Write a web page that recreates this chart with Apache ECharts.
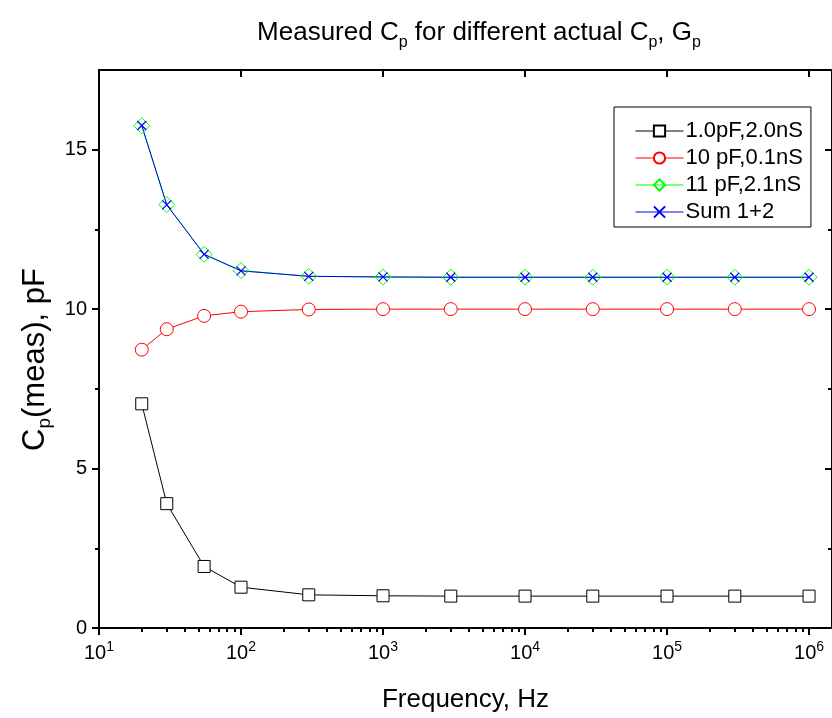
<!DOCTYPE html>
<html><head><meta charset="utf-8">
<script src="https://cdn.jsdelivr.net/npm/echarts@6/dist/echarts.min.js"></script>
<style>html,body{margin:0;padding:0;background:#fff}#c{width:832px;height:718px}</style>
</head><body><div id="c"></div>
<script>
const freq = [20, 30, 55, 100, 300, 1000, 3000, 10000, 30000, 100000, 300000, 1000000];
const cp1 = [7.03, 3.9, 1.93, 1.28, 1.04, 1.01, 1.0, 1.0, 1.0, 1.0, 1.0, 1.0];
const cp10 = [8.73, 9.37, 9.79, 9.92, 9.99, 10.0, 10.0, 10.0, 10.0, 10.0, 10.0, 10.0];
const cp11 = [15.75, 13.28, 11.72, 11.21, 11.03, 11.01, 11.0, 11.0, 11.0, 11.0, 11.0, 11.0];
const cpSum = [15.76, 13.27, 11.72, 11.2, 11.03, 11.01, 11.0, 11.0, 11.0, 11.0, 11.0, 11.0];
const seriesNames = ['1.0pF,2.0nS', '10 pF,0.1nS', '11 pF,2.1nS', 'Sum 1+2'];
const xMajor = [10, 100, 1000, 10000, 100000, 1000000];
const xMinor = [20, 30, 40, 50, 60, 70, 80, 90,
  200, 300, 400, 500, 600, 700, 800, 900,
  2000, 3000, 4000, 5000, 6000, 7000, 8000, 9000,
  20000, 30000, 40000, 50000, 60000, 70000, 80000, 90000,
  200000, 300000, 400000, 500000, 600000, 700000, 800000, 900000];
const yMajor = [0, 5, 10, 15];
const yMinor = [2.5, 7.5, 12.5];

const FONT = 'Liberation Sans, Arial, sans-serif';
const X_MIN = 10, X_MAX = 1.451e6, Y_MIN = 0, Y_MAX = 17.5;
const pair = (xs, ys) => xs.map((x, i) => [x, ys[i]]);

const chart = echarts.init(document.getElementById('c'));
const baseX = (extra) => Object.assign({
  type: 'log', logBase: 10, min: X_MIN, max: X_MAX, gridIndex: 0,
  splitLine: { show: false }, minorTick: { show: false }, minorSplitLine: { show: false },
  axisLine: { show: false }, axisLabel: { show: false }
}, extra);
const baseY = (extra) => Object.assign({
  type: 'value', min: Y_MIN, max: Y_MAX, gridIndex: 0,
  splitLine: { show: false }, axisLine: { show: false }, axisLabel: { show: false }
}, extra);

const option = {
  animation: false,
  backgroundColor: '#fff',
  textStyle: { fontFamily: FONT },
  title: {
    text: 'Measured C{s|p} for different actual C{s|p}, G{s|p}',
    left: 474, top: 10, textAlign: 'center',
    textStyle: {
      fontFamily: FONT, fontSize: 26, fontWeight: 'normal', color: '#000',
      rich: { s: { fontFamily: FONT, fontSize: 16, color: '#000', padding: [20, 0, 0, 0] } }
    }
  },
  grid: { left: 99, top: 70, width: 735, height: 559, containLabel: false },
  legend: {
    orient: 'vertical', left: 614, top: 107,
    padding: [13, 8, 4, 21],
    borderColor: '#000', borderWidth: 1, backgroundColor: '#fff',
    itemWidth: 48, itemHeight: 14, itemGap: 5,
    lineStyle: { width: 1 },
    textStyle: { fontFamily: FONT, fontSize: 22, color: '#000', lineHeight: 22, padding: [0, 0, 0, -3] },
    data: seriesNames
  },
  xAxis: [
    baseX({
      position: 'bottom',
      axisLine: { show: true, onZero: false, lineStyle: { color: '#000', width: 2 } },
      axisTick: { show: true, inside: false, length: 7, lineStyle: { width: 2, color: '#000' }, customValues: xMajor },
      axisLabel: {
        show: true, margin: 12, customValues: xMajor,
        formatter: v => '{b|10}{s|' + Math.round(Math.log10(v)) + '}',
        rich: {
          b: { fontFamily: FONT, fontSize: 20, color: '#000' },
          s: { fontFamily: FONT, fontSize: 14, color: '#000', padding: [0, 0, 13, 0] }
        }
      },
      name: 'Frequency, Hz', nameLocation: 'middle', nameGap: 59,
      nameTextStyle: { fontFamily: FONT, fontSize: 26, color: '#000' }
    }),
    baseX({
      position: 'bottom',
      axisTick: { show: true, inside: false, length: 4, lineStyle: { width: 2, color: '#000' }, customValues: xMinor }
    }),
    baseX({
      position: 'top',
      axisLine: { show: true, onZero: false, lineStyle: { color: '#000', width: 2 } },
      axisTick: { show: true, inside: true, length: 7, lineStyle: { width: 2, color: '#000' }, customValues: xMajor }
    }),
    baseX({
      position: 'top',
      axisTick: { show: true, inside: true, length: 4, lineStyle: { width: 2, color: '#000' }, customValues: xMinor }
    })
  ],
  yAxis: [
    baseY({
      position: 'left',
      axisLine: { show: true, onZero: false, lineStyle: { color: '#000', width: 2 } },
      axisTick: { show: true, inside: false, length: 7, lineStyle: { width: 2, color: '#000' }, customValues: yMajor },
      axisLabel: { show: true, margin: 12, customValues: yMajor, fontFamily: FONT, fontSize: 20, color: '#000' },
      name: '{n|C}{s|p}{n|(meas), pF}', nameLocation: 'middle', nameGap: 44, nameRotate: 90,
      nameTextStyle: {
        fontFamily: FONT, fontSize: 31, color: '#000', padding: [0, 21, 0, 0],
        rich: {
          n: { fontFamily: FONT, fontSize: 31, color: '#000' },
          s: { fontFamily: FONT, fontSize: 19, color: '#000', padding: [18, 0, 0, 0] }
        }
      }
    }),
    baseY({
      position: 'left',
      axisTick: { show: true, inside: false, length: 4, lineStyle: { width: 2, color: '#000' }, customValues: yMinor }
    }),
    baseY({
      position: 'right',
      axisLine: { show: true, onZero: false, lineStyle: { color: '#000', width: 2 } },
      axisTick: { show: true, inside: true, length: 7, lineStyle: { width: 2, color: '#000' }, customValues: yMajor }
    }),
    baseY({
      position: 'right',
      axisTick: { show: true, inside: true, length: 4, lineStyle: { width: 2, color: '#000' }, customValues: yMinor }
    })
  ],
  series: [
    {
      name: seriesNames[0], type: 'line', xAxisIndex: 0, yAxisIndex: 0,
      data: pair(freq, cp1), symbol: 'rect', symbolSize: 12, showAllSymbol: true,
      lineStyle: { color: '#000', width: 1 },
      itemStyle: { color: '#fff', borderColor: '#000', borderWidth: 1 }
    },
    {
      name: seriesNames[1], type: 'line', xAxisIndex: 0, yAxisIndex: 0,
      data: pair(freq, cp10), symbol: 'circle', symbolSize: 13, showAllSymbol: true,
      lineStyle: { color: '#ff0000', width: 1 },
      itemStyle: { color: '#fff', borderColor: '#ff0000', borderWidth: 1 }
    },
    {
      name: seriesNames[2], type: 'line', xAxisIndex: 0, yAxisIndex: 0,
      data: pair(freq, cp11), symbol: 'diamond', symbolSize: 16, showAllSymbol: true,
      lineStyle: { color: '#00ff00', width: 1 },
      itemStyle: { color: 'rgba(255,255,255,0)', borderColor: '#00ff00', borderWidth: 1 }
    },
    {
      name: seriesNames[3], type: 'line', xAxisIndex: 0, yAxisIndex: 0,
      data: pair(freq, cpSum), symbol: 'path://M0,0L10,10M10,0L0,10', symbolSize: 9, showAllSymbol: true,
      lineStyle: { color: '#0000ff', width: 1 },
      itemStyle: { color: 'rgba(0,0,0,0)', borderColor: '#0000ff', borderWidth: 1.2 }
    }
  ]
};
chart.setOption(option);
</script>
</body></html>
